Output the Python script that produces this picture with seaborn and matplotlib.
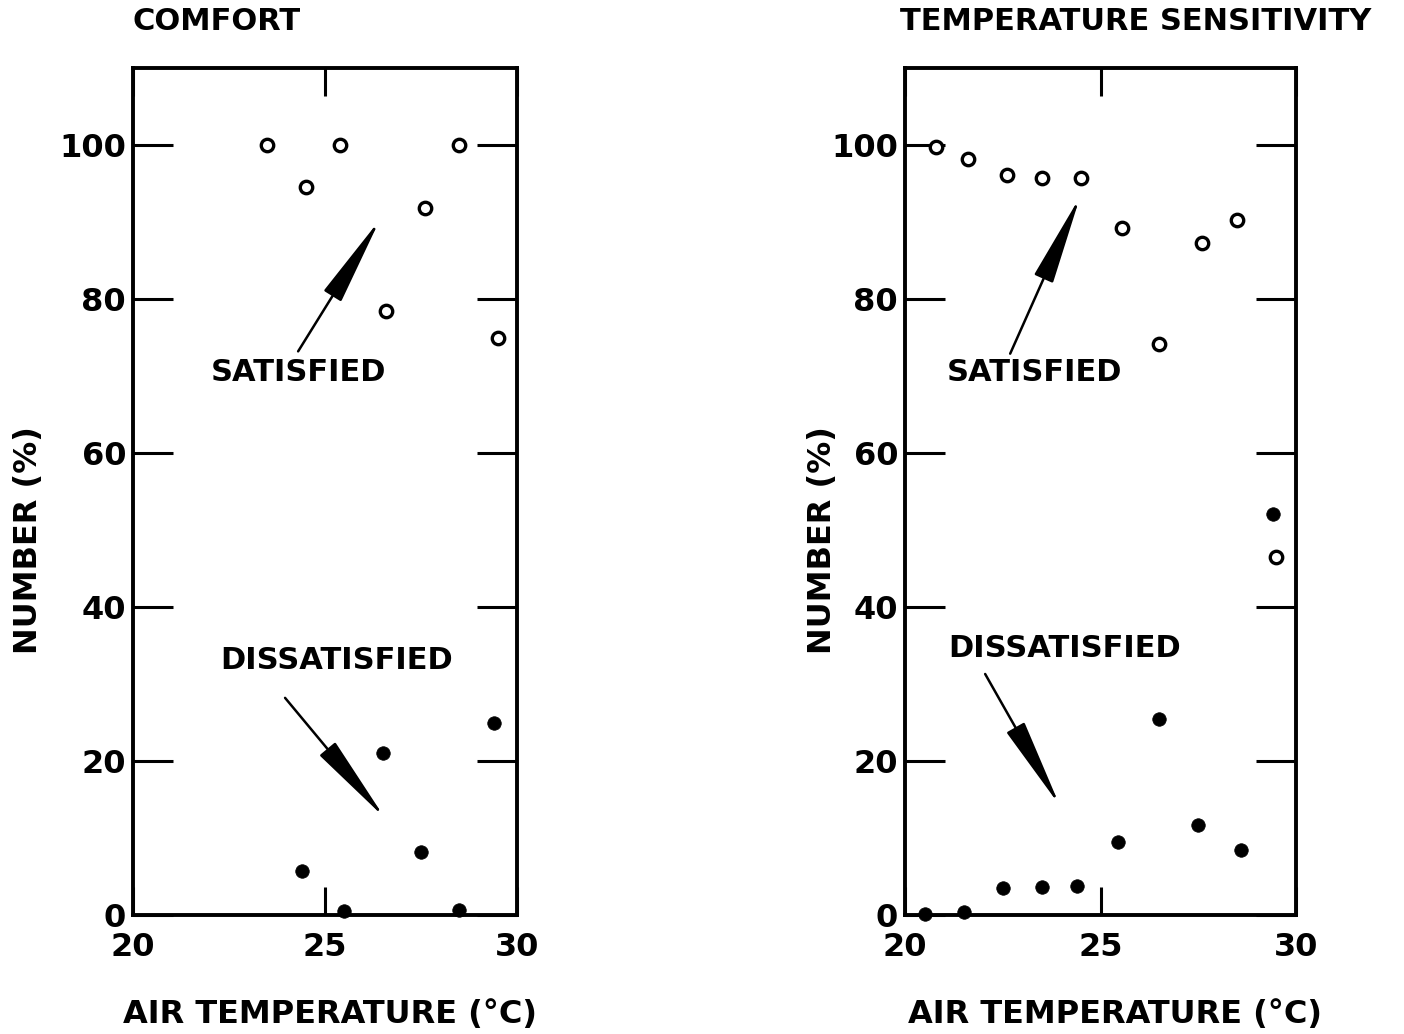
import matplotlib
matplotlib.use("Agg")
import matplotlib.pyplot as plt
import pandas as pd
import seaborn as sns

# ---- data ----
comfort_sat_x = [23.5, 24.5, 25.4, 26.6, 27.6, 28.5, 29.5]
comfort_sat_y = [100, 94.6, 100, 78.4, 91.8, 100, 74.9]
comfort_dis_x = [24.4, 25.5, 26.5, 27.5, 28.5, 29.4]
comfort_dis_y = [5.7, 0.5, 21.0, 8.2, 0.6, 24.9]

sens_sat_x = [20.8, 21.6, 22.6, 23.5, 24.5, 25.55, 26.5, 27.6, 28.5, 29.5]
sens_sat_y = [99.7, 98.2, 96.1, 95.7, 95.7, 89.2, 74.1, 87.3, 90.2, 46.5]
sens_dis_x = [20.5, 21.5, 22.5, 23.5, 24.4, 25.45, 26.5, 27.5, 28.6, 29.4]
sens_dis_y = [0.1, 0.4, 3.5, 3.6, 3.8, 9.5, 25.5, 11.7, 8.5, 52.1]

titles = ["COMFORT", "TEMPERATURE SENSITIVITY"]
x_label = "AIR TEMPERATURE (°C)"
y_label = "NUMBER (%)"
x_ticks = [20, 25, 30]
y_ticks = [0, 20, 40, 60, 80, 100]

sns.set_style("ticks")
plt.rcParams["font.family"] = ["DejaVu Sans"]
for key in ["text.color", "axes.labelcolor", "xtick.color", "ytick.color",
            "axes.edgecolor"]:
    plt.rcParams[key] = "black"

FW = "bold"

fig = plt.figure(figsize=(14.04, 10.34), dpi=100)
ax1 = fig.add_axes([133 / 1404, 1 - 915 / 1034, 384 / 1404, 847 / 1034])
ax2 = fig.add_axes([905 / 1404, 1 - 915 / 1034, 391 / 1404, 847 / 1034])

panels = [
    (ax1, comfort_sat_x, comfort_sat_y, comfort_dis_x, comfort_dis_y),
    (ax2, sens_sat_x, sens_sat_y, sens_dis_x, sens_dis_y),
]

for ax, sx, sy, dx, dy in panels:
    sat = pd.DataFrame({"t": sx, "n": sy})
    dis = pd.DataFrame({"t": dx, "n": dy})
    sns.scatterplot(data=sat, x="t", y="n", ax=ax, s=80, marker="o",
                    facecolor="white", edgecolor="black", linewidth=2.4,
                    zorder=5, clip_on=False)
    sns.scatterplot(data=dis, x="t", y="n", ax=ax, s=95, marker="o",
                    color="black", edgecolor="black", linewidth=0.5,
                    zorder=5, clip_on=False)
    ax.set_xlim(20, 30)
    ax.set_ylim(0, 110)
    ax.set_xticks(x_ticks)
    ax.set_yticks(y_ticks)
    ax.set_xlabel(x_label, fontsize=23, fontweight=FW, va="center")
    ax.set_ylabel(y_label, fontsize=23, fontweight=FW, va="center")
    for sp in ax.spines.values():
        sp.set_visible(True)
        sp.set_linewidth(2.8)
        sp.set_color("black")
    ax.tick_params(axis="y", which="both", direction="in", length=29,
                   width=2.2, left=True, right=True, labelsize=23, pad=5)
    ax.tick_params(axis="x", which="both", direction="in", length=20,
                   width=2.2, top=True, bottom=True, labelsize=23, pad=12)
    for lab in ax.get_xticklabels() + ax.get_yticklabels():
        lab.set_fontweight(FW)

ax1.yaxis.set_label_coords(-0.273, 0.443)
ax2.yaxis.set_label_coords(-0.212, 0.443)
ax1.xaxis.set_label_coords(0.513, -0.118)
ax2.xaxis.set_label_coords(0.537, -0.118)

fig.text(133 / 1404, 1 - 22 / 1034, titles[0], fontsize=22, fontweight=FW,
         ha="left", va="center")
fig.text(900 / 1404, 1 - 22 / 1034, titles[1], fontsize=22, fontweight=FW,
         ha="left", va="center")

arrow = dict(arrowstyle="-|>,head_length=2.8,head_width=0.32", color="black",
             lw=1.8, mutation_scale=20, shrinkA=0, shrinkB=0)

# annotations: left panel
ax1.annotate("", xy=(26.43, 90.3), xytext=(24.3, 73.2), arrowprops=arrow)
ax1.text(24.3, 70.5, "SATISFIED", fontsize=22, fontweight=FW,
         ha="center", va="center")
ax1.annotate("", xy=(26.56, 12.6), xytext=(23.96, 28.2), arrowprops=arrow)
ax1.text(25.3, 33.0, "DISSATISFIED", fontsize=22, fontweight=FW,
         ha="center", va="center")

# annotations: right panel
ax2.annotate("", xy=(24.48, 93.3), xytext=(22.69, 72.9), arrowprops=arrow)
ax2.text(23.3, 70.5, "SATISFIED", fontsize=22, fontweight=FW,
         ha="center", va="center")
ax2.annotate("", xy=(23.96, 14.2), xytext=(22.05, 31.3), arrowprops=arrow)
ax2.text(24.07, 34.6, "DISSATISFIED", fontsize=22, fontweight=FW,
         ha="center", va="center")

fig.savefig("out.png", dpi=100, facecolor="white")
